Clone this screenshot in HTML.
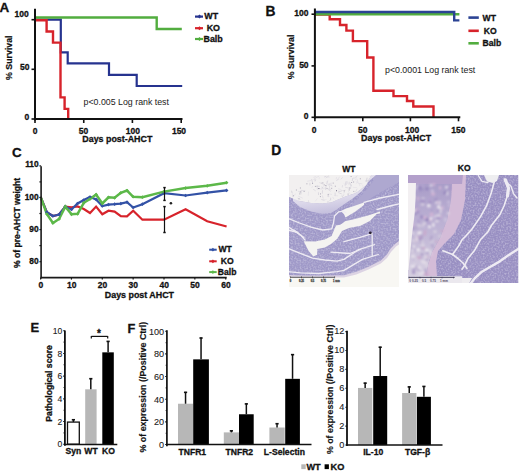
<!DOCTYPE html>
<html><head><meta charset="utf-8"><style>
html,body{margin:0;padding:0;background:#fff;width:520px;height:473px;overflow:hidden}
svg{display:block}
text{font-family:"Liberation Sans", sans-serif}
</style></head><body>
<svg width="520" height="473" viewBox="0 0 520 473">
<rect width="520" height="473" fill="#fff"/>
<text x="-0.4" y="12.4" font-size="13.5" font-weight="bold" text-anchor="start" fill="#111"  stroke="#111" stroke-width="0.3">A</text>
<polyline points="35.0,19.6 60.8,19.6 60.8,52.3 67.7,52.3 67.7,63.4 109.0,63.4 109.0,74.8 136.7,74.8 136.7,86.0 182.2,86.0" fill="none" stroke="#26338f" stroke-width="2.2" stroke-linejoin="miter" />
<polyline points="35.0,20.2 46.6,20.2 46.6,31.5 53.0,31.5 53.0,42.6 60.5,42.6 60.5,97.4 64.6,97.4 64.6,108.9 68.2,108.9 68.2,118.5" fill="none" stroke="#d7232b" stroke-width="2.4" stroke-linejoin="miter" />
<polyline points="35.0,17.5 156.7,17.5 156.7,29.0 181.8,29.0" fill="none" stroke="#52ad3f" stroke-width="2.4" stroke-linejoin="miter" />
<line x1="35" y1="8.8" x2="35" y2="120.5" stroke="#111" stroke-width="2.0" />
<line x1="34.2" y1="119" x2="182.5" y2="119" stroke="#111" stroke-width="2.0" />
<line x1="31.5" y1="19.7" x2="35" y2="19.7" stroke="#111" stroke-width="1.6" />
<line x1="31.5" y1="69.3" x2="35" y2="69.3" stroke="#111" stroke-width="1.6" />
<line x1="31.5" y1="119" x2="35" y2="119" stroke="#111" stroke-width="1.6" />
<line x1="35" y1="119" x2="35" y2="123" stroke="#111" stroke-width="1.6" />
<line x1="83.75" y1="119" x2="83.75" y2="123" stroke="#111" stroke-width="1.6" />
<line x1="132.4" y1="119" x2="132.4" y2="123" stroke="#111" stroke-width="1.6" />
<line x1="181.2" y1="119" x2="181.2" y2="123" stroke="#111" stroke-width="1.6" />
<text x="28.8" y="16.7" font-size="8.5" font-weight="bold" text-anchor="end" fill="#111"  stroke="#111" stroke-width="0.3">100</text>
<text x="29.4" y="70" font-size="8.5" font-weight="bold" text-anchor="end" fill="#111"  stroke="#111" stroke-width="0.3">50</text>
<text x="29.2" y="120" font-size="8.5" font-weight="bold" text-anchor="end" fill="#111"  stroke="#111" stroke-width="0.3">0</text>
<text x="35" y="133.9" font-size="8.5" font-weight="bold" text-anchor="middle" fill="#111"  stroke="#111" stroke-width="0.3">0</text>
<text x="83.5" y="133.9" font-size="8.5" font-weight="bold" text-anchor="middle" fill="#111"  stroke="#111" stroke-width="0.3">50</text>
<text x="132.8" y="133.9" font-size="8.5" font-weight="bold" text-anchor="middle" fill="#111"  stroke="#111" stroke-width="0.3">100</text>
<text x="179" y="133.9" font-size="8.5" font-weight="bold" text-anchor="middle" fill="#111"  stroke="#111" stroke-width="0.3">150</text>
<text x="12.1" y="57.7" font-size="8.8" font-weight="bold" text-anchor="middle" fill="#111" transform="rotate(-90 12.1 57.7)"  stroke="#111" stroke-width="0.2">% Survival</text>
<text x="117.3" y="141.9" font-size="8.9" font-weight="bold" text-anchor="middle" fill="#111"  stroke="#111" stroke-width="0.3">Days post-AHCT</text>
<text x="83.6" y="104.7" font-size="8.8" font-weight="normal" text-anchor="start" fill="#1a1a1a" >p&lt;0.005 Log rank test</text>
<line x1="195" y1="16.6" x2="203" y2="16.6" stroke="#26338f" stroke-width="2.2" />
<rect x="198.1" y="15.200000000000001" width="2.8" height="2.8" fill="#26338f" transform="rotate(45 199.5 16.6)"/>
<text x="204.3" y="19.400000000000002" font-size="8.9" font-weight="bold" text-anchor="start" fill="#111"  stroke="#111" stroke-width="0.3">WT</text>
<line x1="195" y1="28.2" x2="203" y2="28.2" stroke="#d7232b" stroke-width="2.2" />
<rect x="198.1" y="26.8" width="2.8" height="2.8" fill="#d7232b" transform="rotate(45 199.5 28.2)"/>
<text x="206.7" y="31.0" font-size="8.9" font-weight="bold" text-anchor="start" fill="#111"  stroke="#111" stroke-width="0.3">KO</text>
<line x1="195" y1="39" x2="203" y2="39" stroke="#52ad3f" stroke-width="2.2" />
<rect x="198.1" y="37.6" width="2.8" height="2.8" fill="#52ad3f" transform="rotate(45 199.5 39)"/>
<text x="203.5" y="41.8" font-size="8.9" font-weight="bold" text-anchor="start" fill="#111"  stroke="#111" stroke-width="0.3">Balb</text>
<text x="265.4" y="16.3" font-size="13.8" font-weight="bold" text-anchor="start" fill="#111"  stroke="#111" stroke-width="0.3">B</text>
<polyline points="315.0,14.5 329.7,14.5 329.7,19.2 340.0,19.2 340.0,25.0 346.4,25.0 346.4,30.6 352.9,30.6 352.9,41.1 367.2,41.1 367.2,57.5 373.4,57.5 373.4,90.8 393.5,90.8 393.5,96.1 407.0,96.1 407.0,101.0 413.3,101.0 413.3,106.5 433.5,106.5 433.5,117.0" fill="none" stroke="#d7232b" stroke-width="2.4" stroke-linejoin="miter" />
<polyline points="315.0,14.2 459.4,14.2" fill="none" stroke="#52ad3f" stroke-width="2.4" stroke-linejoin="miter" />
<polyline points="315.0,12.0 454.2,12.0 454.2,20.4 459.4,20.4" fill="none" stroke="#2b4394" stroke-width="2.4" stroke-linejoin="miter" />
<line x1="314.9" y1="8.5" x2="314.9" y2="118.5" stroke="#111" stroke-width="2.0" />
<line x1="314" y1="117.3" x2="460.3" y2="117.3" stroke="#111" stroke-width="2.0" />
<line x1="311.5" y1="14.2" x2="315" y2="14.2" stroke="#111" stroke-width="1.6" />
<line x1="311.5" y1="65.9" x2="315" y2="65.9" stroke="#111" stroke-width="1.6" />
<line x1="311.5" y1="117.3" x2="315" y2="117.3" stroke="#111" stroke-width="1.6" />
<line x1="314.9" y1="117.3" x2="314.9" y2="121.3" stroke="#111" stroke-width="1.6" />
<line x1="362.8" y1="117.3" x2="362.8" y2="121.3" stroke="#111" stroke-width="1.6" />
<line x1="410.4" y1="117.3" x2="410.4" y2="121.3" stroke="#111" stroke-width="1.6" />
<line x1="458.5" y1="117.3" x2="458.5" y2="121.3" stroke="#111" stroke-width="1.6" />
<text x="308.4" y="16.1" font-size="8.5" font-weight="bold" text-anchor="end" fill="#111"  stroke="#111" stroke-width="0.3">100</text>
<text x="308.6" y="68.2" font-size="8.5" font-weight="bold" text-anchor="end" fill="#111"  stroke="#111" stroke-width="0.3">50</text>
<text x="308.6" y="119.2" font-size="8.5" font-weight="bold" text-anchor="end" fill="#111"  stroke="#111" stroke-width="0.3">0</text>
<text x="314" y="133.1" font-size="8.5" font-weight="bold" text-anchor="middle" fill="#111"  stroke="#111" stroke-width="0.3">0</text>
<text x="362.8" y="133.1" font-size="8.5" font-weight="bold" text-anchor="middle" fill="#111"  stroke="#111" stroke-width="0.3">50</text>
<text x="412.2" y="133.1" font-size="8.5" font-weight="bold" text-anchor="middle" fill="#111"  stroke="#111" stroke-width="0.3">100</text>
<text x="458.4" y="133.1" font-size="8.5" font-weight="bold" text-anchor="middle" fill="#111"  stroke="#111" stroke-width="0.3">150</text>
<text x="294.2" y="56.9" font-size="8.8" font-weight="bold" text-anchor="middle" fill="#111" transform="rotate(-90 294.2 56.9)"  stroke="#111" stroke-width="0.2">% Survival</text>
<text x="396.1" y="141.0" font-size="8.9" font-weight="bold" text-anchor="middle" fill="#111"  stroke="#111" stroke-width="0.3">Days post-AHCT</text>
<text x="385" y="72.7" font-size="8.8" font-weight="normal" text-anchor="start" fill="#1a1a1a" >p&lt;0.0001 Log rank test</text>
<line x1="468.4" y1="17.6" x2="478.8" y2="17.6" stroke="#2b4394" stroke-width="2.6" />
<text x="482.6" y="20.6" font-size="8.6" font-weight="bold" text-anchor="start" fill="#111"  stroke="#111" stroke-width="0.3">WT</text>
<line x1="468.4" y1="30.8" x2="478.8" y2="30.8" stroke="#d7232b" stroke-width="2.6" />
<text x="483.8" y="33.8" font-size="8.6" font-weight="bold" text-anchor="start" fill="#111"  stroke="#111" stroke-width="0.3">KO</text>
<line x1="468.4" y1="43.3" x2="478.8" y2="43.3" stroke="#52ad3f" stroke-width="2.6" />
<text x="482.6" y="46.3" font-size="8.6" font-weight="bold" text-anchor="start" fill="#111"  stroke="#111" stroke-width="0.3">Balb</text>
<text x="11.9" y="156.9" font-size="13.4" font-weight="bold" text-anchor="start" fill="#111"  stroke="#111" stroke-width="0.3">C</text>
<polyline points="40.6,196.8 46.8,212.2 52.9,216.0 59.1,214.5 65.3,206.6 71.5,207.3 77.6,206.5 83.8,209.0 90.0,213.0 96.1,206.6 102.3,214.3 108.5,210.7 114.6,211.6 120.8,216.1 127.0,216.3 133.2,210.7 142.4,219.7 164.0,219.7 185.6,209.2 207.2,221.2 226.6,226.5" fill="none" stroke="#d7232b" stroke-width="2.2" stroke-linejoin="miter" stroke-linejoin="round"/>
<polyline points="40.6,196.8 46.8,212.2 52.9,216.0 59.1,214.5 65.3,206.6 71.5,209.5 77.6,203.5 83.8,200.0 90.0,197.0 96.1,199.4 102.3,206.0 108.5,204.6 114.6,204.2 120.8,203.6 127.0,202.2 133.2,207.6 142.4,204.2 164.0,193.2 185.6,195.5 207.2,192.7 226.6,190.4" fill="none" stroke="#3352a6" stroke-width="2.2" stroke-linejoin="miter" stroke-linejoin="round"/>
<polyline points="40.6,196.8 46.8,214.0 52.9,223.0 59.1,219.0 65.3,206.6 71.5,214.3 77.6,213.8 83.8,202.8 90.0,199.0 96.1,194.6 102.3,203.5 108.5,197.3 114.6,197.8 120.8,192.8 127.0,190.5 133.2,196.8 142.4,197.2 164.0,191.6 185.6,188.1 207.2,185.8 226.6,182.7" fill="none" stroke="#5cb849" stroke-width="2.5" stroke-linejoin="miter" stroke-linejoin="round"/>
<rect x="45.5" y="210.9" width="2.6" height="2.6" fill="#3352a6" transform="rotate(45 46.8 212.2)"/>
<rect x="51.6" y="214.7" width="2.6" height="2.6" fill="#3352a6" transform="rotate(45 52.9 216.0)"/>
<rect x="57.8" y="213.2" width="2.6" height="2.6" fill="#3352a6" transform="rotate(45 59.1 214.5)"/>
<rect x="64.0" y="205.3" width="2.6" height="2.6" fill="#3352a6" transform="rotate(45 65.3 206.6)"/>
<rect x="70.2" y="208.2" width="2.6" height="2.6" fill="#3352a6" transform="rotate(45 71.5 209.5)"/>
<rect x="76.3" y="202.2" width="2.6" height="2.6" fill="#3352a6" transform="rotate(45 77.6 203.5)"/>
<rect x="82.5" y="198.7" width="2.6" height="2.6" fill="#3352a6" transform="rotate(45 83.8 200.0)"/>
<rect x="88.7" y="195.7" width="2.6" height="2.6" fill="#3352a6" transform="rotate(45 90.0 197.0)"/>
<rect x="94.8" y="198.1" width="2.6" height="2.6" fill="#3352a6" transform="rotate(45 96.1 199.4)"/>
<rect x="101.0" y="204.7" width="2.6" height="2.6" fill="#3352a6" transform="rotate(45 102.3 206.0)"/>
<rect x="107.2" y="203.3" width="2.6" height="2.6" fill="#3352a6" transform="rotate(45 108.5 204.6)"/>
<rect x="113.3" y="202.9" width="2.6" height="2.6" fill="#3352a6" transform="rotate(45 114.6 204.2)"/>
<rect x="119.5" y="202.3" width="2.6" height="2.6" fill="#3352a6" transform="rotate(45 120.8 203.6)"/>
<rect x="125.7" y="200.9" width="2.6" height="2.6" fill="#3352a6" transform="rotate(45 127.0 202.2)"/>
<rect x="131.8" y="206.3" width="2.6" height="2.6" fill="#3352a6" transform="rotate(45 133.2 207.6)"/>
<rect x="141.1" y="202.9" width="2.6" height="2.6" fill="#3352a6" transform="rotate(45 142.4 204.2)"/>
<rect x="162.7" y="191.9" width="2.6" height="2.6" fill="#3352a6" transform="rotate(45 164.0 193.2)"/>
<rect x="184.3" y="194.2" width="2.6" height="2.6" fill="#3352a6" transform="rotate(45 185.6 195.5)"/>
<rect x="205.9" y="191.4" width="2.6" height="2.6" fill="#3352a6" transform="rotate(45 207.2 192.7)"/>
<rect x="225.3" y="189.1" width="2.6" height="2.6" fill="#3352a6" transform="rotate(45 226.6 190.4)"/>
<rect x="45.5" y="212.7" width="2.6" height="2.6" fill="#5cb849" transform="rotate(45 46.8 214.0)"/>
<rect x="51.6" y="221.7" width="2.6" height="2.6" fill="#5cb849" transform="rotate(45 52.9 223.0)"/>
<rect x="57.8" y="217.7" width="2.6" height="2.6" fill="#5cb849" transform="rotate(45 59.1 219.0)"/>
<rect x="64.0" y="205.3" width="2.6" height="2.6" fill="#5cb849" transform="rotate(45 65.3 206.6)"/>
<rect x="70.2" y="213.0" width="2.6" height="2.6" fill="#5cb849" transform="rotate(45 71.5 214.3)"/>
<rect x="76.3" y="212.5" width="2.6" height="2.6" fill="#5cb849" transform="rotate(45 77.6 213.8)"/>
<rect x="82.5" y="201.5" width="2.6" height="2.6" fill="#5cb849" transform="rotate(45 83.8 202.8)"/>
<rect x="88.7" y="197.7" width="2.6" height="2.6" fill="#5cb849" transform="rotate(45 90.0 199.0)"/>
<rect x="94.8" y="193.3" width="2.6" height="2.6" fill="#5cb849" transform="rotate(45 96.1 194.6)"/>
<rect x="101.0" y="202.2" width="2.6" height="2.6" fill="#5cb849" transform="rotate(45 102.3 203.5)"/>
<rect x="107.2" y="196.0" width="2.6" height="2.6" fill="#5cb849" transform="rotate(45 108.5 197.3)"/>
<rect x="113.3" y="196.5" width="2.6" height="2.6" fill="#5cb849" transform="rotate(45 114.6 197.8)"/>
<rect x="119.5" y="191.5" width="2.6" height="2.6" fill="#5cb849" transform="rotate(45 120.8 192.8)"/>
<rect x="125.7" y="189.2" width="2.6" height="2.6" fill="#5cb849" transform="rotate(45 127.0 190.5)"/>
<rect x="131.8" y="195.5" width="2.6" height="2.6" fill="#5cb849" transform="rotate(45 133.2 196.8)"/>
<rect x="141.1" y="195.9" width="2.6" height="2.6" fill="#5cb849" transform="rotate(45 142.4 197.2)"/>
<rect x="162.7" y="190.3" width="2.6" height="2.6" fill="#5cb849" transform="rotate(45 164.0 191.6)"/>
<rect x="184.3" y="186.8" width="2.6" height="2.6" fill="#5cb849" transform="rotate(45 185.6 188.1)"/>
<rect x="205.9" y="184.5" width="2.6" height="2.6" fill="#5cb849" transform="rotate(45 207.2 185.8)"/>
<rect x="225.3" y="181.4" width="2.6" height="2.6" fill="#5cb849" transform="rotate(45 226.6 182.7)"/>
<line x1="164.5" y1="187.4" x2="164.5" y2="200.6" stroke="#111" stroke-width="1.2" />
<line x1="163.3" y1="187.6" x2="165.7" y2="187.6" stroke="#111" stroke-width="1.5" />
<line x1="163.3" y1="200.4" x2="165.7" y2="200.4" stroke="#111" stroke-width="1.5" />
<line x1="164.5" y1="206.4" x2="164.5" y2="232.7" stroke="#111" stroke-width="1.2" />
<line x1="163.3" y1="206.6" x2="165.7" y2="206.6" stroke="#111" stroke-width="1.5" />
<line x1="163.3" y1="232.5" x2="165.7" y2="232.5" stroke="#111" stroke-width="1.5" />
<circle cx="170.9" cy="203.2" r="1.3" fill="#222"/>
<line x1="41.1" y1="166.3" x2="41.1" y2="278.4" stroke="#1a1a1a" stroke-width="1.6" />
<line x1="40.5" y1="277.7" x2="226.7" y2="277.7" stroke="#1a1a1a" stroke-width="1.8" />
<line x1="39.4" y1="165.9" x2="41.1" y2="165.9" stroke="#1a1a1a" stroke-width="1.2" />
<line x1="39.4" y1="181.9" x2="41.1" y2="181.9" stroke="#1a1a1a" stroke-width="1.2" />
<line x1="39.4" y1="197.4" x2="41.1" y2="197.4" stroke="#1a1a1a" stroke-width="1.2" />
<line x1="39.4" y1="213.5" x2="41.1" y2="213.5" stroke="#1a1a1a" stroke-width="1.2" />
<line x1="39.4" y1="229.6" x2="41.1" y2="229.6" stroke="#1a1a1a" stroke-width="1.2" />
<line x1="39.4" y1="245.6" x2="41.1" y2="245.6" stroke="#1a1a1a" stroke-width="1.2" />
<line x1="39.4" y1="261.7" x2="41.1" y2="261.7" stroke="#1a1a1a" stroke-width="1.2" />
<line x1="40.6" y1="277.7" x2="40.6" y2="279.6" stroke="#1a1a1a" stroke-width="1.2" />
<line x1="71.45" y1="277.7" x2="71.45" y2="279.6" stroke="#1a1a1a" stroke-width="1.2" />
<line x1="102.30000000000001" y1="277.7" x2="102.30000000000001" y2="279.6" stroke="#1a1a1a" stroke-width="1.2" />
<line x1="133.15" y1="277.7" x2="133.15" y2="279.6" stroke="#1a1a1a" stroke-width="1.2" />
<line x1="164.0" y1="277.7" x2="164.0" y2="279.6" stroke="#1a1a1a" stroke-width="1.2" />
<line x1="194.85" y1="277.7" x2="194.85" y2="279.6" stroke="#1a1a1a" stroke-width="1.2" />
<line x1="225.7" y1="277.7" x2="225.7" y2="279.6" stroke="#1a1a1a" stroke-width="1.2" />
<text x="38.7" y="167.2" font-size="8.4" font-weight="bold" text-anchor="end" fill="#111"  stroke="#111" stroke-width="0.3">110</text>
<text x="38.7" y="200.4" font-size="8.4" font-weight="bold" text-anchor="end" fill="#111"  stroke="#111" stroke-width="0.3">100</text>
<text x="38.7" y="232.1" font-size="8.4" font-weight="bold" text-anchor="end" fill="#111"  stroke="#111" stroke-width="0.3">90</text>
<text x="38.7" y="263.6" font-size="8.4" font-weight="bold" text-anchor="end" fill="#111"  stroke="#111" stroke-width="0.3">80</text>
<text x="40.800000000000004" y="288.2" font-size="8.5" font-weight="bold" text-anchor="middle" fill="#111"  stroke="#111" stroke-width="0.3">0</text>
<text x="71.65" y="288.2" font-size="8.5" font-weight="bold" text-anchor="middle" fill="#111"  stroke="#111" stroke-width="0.3">10</text>
<text x="102.50000000000001" y="288.2" font-size="8.5" font-weight="bold" text-anchor="middle" fill="#111"  stroke="#111" stroke-width="0.3">20</text>
<text x="133.35" y="288.2" font-size="8.5" font-weight="bold" text-anchor="middle" fill="#111"  stroke="#111" stroke-width="0.3">30</text>
<text x="164.2" y="288.2" font-size="8.5" font-weight="bold" text-anchor="middle" fill="#111"  stroke="#111" stroke-width="0.3">40</text>
<text x="195.04999999999998" y="288.2" font-size="8.5" font-weight="bold" text-anchor="middle" fill="#111"  stroke="#111" stroke-width="0.3">50</text>
<text x="225.89999999999998" y="288.2" font-size="8.5" font-weight="bold" text-anchor="middle" fill="#111"  stroke="#111" stroke-width="0.3">60</text>
<text x="19.9" y="222.9" font-size="8.6" font-weight="bold" text-anchor="middle" fill="#111" transform="rotate(-90 19.9 222.9)"  stroke="#111" stroke-width="0.3">% of pre-AHCT weight</text>
<text x="139.4" y="297.6" font-size="8.9" font-weight="bold" text-anchor="middle" fill="#111"  stroke="#111" stroke-width="0.3">Days post AHCT</text>
<line x1="209.2" y1="249.7" x2="216.7" y2="249.7" stroke="#3352a6" stroke-width="2.0" />
<rect x="211.6" y="248.39999999999998" width="2.6" height="2.6" fill="#3352a6" transform="rotate(45 212.9 249.7)"/>
<text x="218.5" y="252.39999999999998" font-size="8.6" font-weight="bold" text-anchor="start" fill="#111"  stroke="#111" stroke-width="0.3">WT</text>
<line x1="209.2" y1="261.3" x2="216.7" y2="261.3" stroke="#d7232b" stroke-width="2.0" />
<rect x="211.6" y="260.0" width="2.6" height="2.6" fill="#d7232b" transform="rotate(45 212.9 261.3)"/>
<text x="220.8" y="264.0" font-size="8.6" font-weight="bold" text-anchor="start" fill="#111"  stroke="#111" stroke-width="0.3">KO</text>
<line x1="209.2" y1="272.1" x2="216.7" y2="272.1" stroke="#5cb849" stroke-width="2.0" />
<rect x="211.6" y="270.8" width="2.6" height="2.6" fill="#5cb849" transform="rotate(45 212.9 272.1)"/>
<text x="217.8" y="274.8" font-size="8.6" font-weight="bold" text-anchor="start" fill="#111"  stroke="#111" stroke-width="0.3">Balb</text>
<text x="271.2" y="155.3" font-size="13.8" font-weight="bold" text-anchor="start" fill="#111"  stroke="#111" stroke-width="0.3">D</text>
<text x="348.8" y="171.9" font-size="8.5" font-weight="bold" text-anchor="middle" fill="#111"  stroke="#111" stroke-width="0.3">WT</text>
<text x="464.2" y="171.4" font-size="8.5" font-weight="bold" text-anchor="middle" fill="#111"  stroke="#111" stroke-width="0.3">KO</text>
<defs><clipPath id="cwt"><rect x="289" y="175" width="110" height="112"/></clipPath><clipPath id="cko"><rect x="408" y="175" width="110.5" height="108"/></clipPath><filter id="spk" x="0" y="0" width="1" height="1"><feTurbulence type="fractalNoise" baseFrequency="0.6" numOctaves="1" seed="3"/><feColorMatrix values="0 0 0 0 1  0 0 0 0 1  0 0 0 0 1  0 0 0 -2.2 1.25"/></filter><filter id="spkd" x="0" y="0" width="1" height="1"><feTurbulence type="fractalNoise" baseFrequency="0.7" numOctaves="1" seed="9"/><feColorMatrix values="0 0 0 0 0.25  0 0 0 0 0.2  0 0 0 0 0.4  0 0 0 -2.4 1.3"/></filter><filter id="bl" x="-5%" y="-5%" width="110%" height="110%"><feGaussianBlur stdDeviation="0.55"/></filter></defs>
<g clip-path="url(#cwt)"><g filter="url(#bl)">
<rect x="289" y="175" width="110" height="112" fill="#a19bca" stroke="none" stroke-width="0"/>
<rect x="289" y="175" width="110" height="112" filter="url(#spk)" opacity="0.4"/>
<rect x="289" y="175" width="110" height="112" filter="url(#spkd)" opacity="0.3"/>
<polygon points="372.0,175.0 399.0,175.0 399.0,182.0 388.0,188.0 376.0,195.0 365.0,202.0 352.0,208.0 352.0,204.0 360.0,197.0 368.0,188.0 374.0,180.0" fill="#aea8d0" />
<defs><linearGradient id="pg" x1="0" y1="0" x2="0.25" y2="1"><stop offset="0" stop-color="#e8e5ef"/><stop offset="0.7" stop-color="#dcd8ea"/><stop offset="1" stop-color="#c6c1de"/></linearGradient></defs>
<polygon points="293.0,196.0 299.5,201.1 311.0,202.9 322.6,203.5 331.8,202.3 339.9,198.8 348.0,195.4 356.0,193.0 366.2,185.2 371.3,175.0 376.0,175.0 369.0,181.0 362.0,191.0 352.0,199.0 343.0,205.0 336.0,210.0 331.0,213.0 322.0,213.8 311.0,211.5 300.0,207.0 293.0,201.0" fill="url(#pg)" />
<polygon points="289.0,175.0 371.3,175.0 366.2,185.2 356.0,193.0 348.0,195.4 339.9,198.8 331.8,202.3 322.6,203.5 311.0,202.9 299.5,201.1 289.0,197.0" fill="#f2f0f0" />
<line x1="315.9" y1="179.6" x2="314.9" y2="181.6" stroke="#d6d3dc" stroke-width="0.6"/>
<line x1="319.3" y1="177.1" x2="319.2" y2="179.2" stroke="#e2dfe6" stroke-width="0.6"/>
<line x1="323.5" y1="182.1" x2="323.1" y2="184.3" stroke="#d6d3dc" stroke-width="0.6"/>
<line x1="336.6" y1="177.2" x2="336.1" y2="179.3" stroke="#dddae2" stroke-width="0.6"/>
<line x1="313.2" y1="179.5" x2="315.9" y2="180.5" stroke="#dddae2" stroke-width="0.6"/>
<line x1="298.2" y1="191.2" x2="300.1" y2="192.5" stroke="#d6d3dc" stroke-width="0.6"/>
<line x1="335.1" y1="192.5" x2="335.2" y2="196.1" stroke="#cdcad5" stroke-width="0.6"/>
<line x1="327.2" y1="200.9" x2="328.4" y2="203.4" stroke="#dddae2" stroke-width="0.6"/>
<line x1="345.9" y1="182.2" x2="345.1" y2="185.7" stroke="#cdcad5" stroke-width="0.6"/>
<line x1="348.4" y1="183.4" x2="346.0" y2="183.6" stroke="#e2dfe6" stroke-width="0.6"/>
<line x1="367.0" y1="177.6" x2="366.2" y2="181.9" stroke="#cdcad5" stroke-width="0.6"/>
<line x1="317.2" y1="185.1" x2="317.3" y2="189.5" stroke="#d6d3dc" stroke-width="0.6"/>
<line x1="327.9" y1="193.8" x2="332.0" y2="194.5" stroke="#e2dfe6" stroke-width="0.6"/>
<line x1="312.8" y1="186.1" x2="311.7" y2="187.9" stroke="#e2dfe6" stroke-width="0.6"/>
<line x1="318.4" y1="192.3" x2="318.5" y2="195.0" stroke="#cdcad5" stroke-width="0.6"/>
<line x1="321.3" y1="199.5" x2="324.5" y2="200.3" stroke="#cdcad5" stroke-width="0.6"/>
<line x1="359.1" y1="183.2" x2="359.9" y2="186.1" stroke="#e2dfe6" stroke-width="0.6"/>
<line x1="366.6" y1="179.7" x2="368.9" y2="181.1" stroke="#dddae2" stroke-width="0.6"/>
<line x1="301.7" y1="190.2" x2="300.7" y2="193.0" stroke="#dddae2" stroke-width="0.6"/>
<line x1="345.2" y1="189.7" x2="343.8" y2="193.4" stroke="#d6d3dc" stroke-width="0.6"/>
<line x1="326.5" y1="199.5" x2="322.5" y2="200.1" stroke="#e2dfe6" stroke-width="0.6"/>
<line x1="321.8" y1="186.3" x2="322.0" y2="189.5" stroke="#dddae2" stroke-width="0.6"/>
<line x1="319.1" y1="176.2" x2="315.5" y2="177.7" stroke="#dddae2" stroke-width="0.6"/>
<line x1="338.2" y1="188.5" x2="341.4" y2="189.8" stroke="#e2dfe6" stroke-width="0.6"/>
<line x1="328.4" y1="184.1" x2="332.3" y2="185.9" stroke="#cdcad5" stroke-width="0.6"/>
<line x1="328.3" y1="194.5" x2="328.2" y2="197.1" stroke="#cdcad5" stroke-width="0.6"/>
<line x1="301.7" y1="190.4" x2="305.3" y2="190.7" stroke="#d6d3dc" stroke-width="0.6"/>
<line x1="345.7" y1="182.7" x2="346.7" y2="185.0" stroke="#dddae2" stroke-width="0.6"/>
<line x1="332.6" y1="196.9" x2="334.0" y2="199.2" stroke="#dddae2" stroke-width="0.6"/>
<line x1="349.2" y1="181.7" x2="349.0" y2="184.8" stroke="#d6d3dc" stroke-width="0.6"/>
<line x1="327.8" y1="180.8" x2="326.8" y2="183.7" stroke="#cdcad5" stroke-width="0.6"/>
<line x1="357.2" y1="188.7" x2="355.2" y2="192.6" stroke="#d6d3dc" stroke-width="0.6"/>
<line x1="356.8" y1="178.8" x2="358.2" y2="182.7" stroke="#dddae2" stroke-width="0.6"/>
<line x1="328.2" y1="180.4" x2="325.9" y2="182.3" stroke="#e2dfe6" stroke-width="0.6"/>
<line x1="327.1" y1="195.9" x2="329.4" y2="196.6" stroke="#dddae2" stroke-width="0.6"/>
<line x1="292.2" y1="191.7" x2="292.6" y2="195.7" stroke="#e2dfe6" stroke-width="0.6"/>
<line x1="342.6" y1="185.1" x2="342.2" y2="187.5" stroke="#d6d3dc" stroke-width="0.6"/>
<line x1="298.2" y1="196.1" x2="302.7" y2="198.2" stroke="#dddae2" stroke-width="0.6"/>
<line x1="356.1" y1="181.3" x2="358.1" y2="183.4" stroke="#dddae2" stroke-width="0.6"/>
<line x1="351.1" y1="184.5" x2="350.5" y2="188.9" stroke="#d6d3dc" stroke-width="0.6"/>
<line x1="362.8" y1="185.2" x2="363.3" y2="188.9" stroke="#e2dfe6" stroke-width="0.6"/>
<line x1="330.8" y1="199.5" x2="327.9" y2="202.0" stroke="#dddae2" stroke-width="0.6"/>
<line x1="348.0" y1="190.8" x2="349.9" y2="193.8" stroke="#e2dfe6" stroke-width="0.6"/>
<line x1="352.7" y1="178.4" x2="352.2" y2="181.1" stroke="#cdcad5" stroke-width="0.6"/>
<line x1="326.2" y1="176.3" x2="324.1" y2="177.0" stroke="#cdcad5" stroke-width="0.6"/>
<line x1="339.0" y1="189.4" x2="338.8" y2="193.5" stroke="#e2dfe6" stroke-width="0.6"/>
<line x1="330.7" y1="197.7" x2="330.6" y2="200.4" stroke="#cdcad5" stroke-width="0.6"/>
<line x1="323.3" y1="186.3" x2="325.5" y2="189.7" stroke="#e2dfe6" stroke-width="0.6"/>
<line x1="295.8" y1="193.9" x2="292.2" y2="196.9" stroke="#dddae2" stroke-width="0.6"/>
<line x1="319.3" y1="182.5" x2="322.4" y2="183.9" stroke="#d6d3dc" stroke-width="0.6"/>
<line x1="321.9" y1="188.9" x2="317.4" y2="189.0" stroke="#dddae2" stroke-width="0.6"/>
<line x1="322.3" y1="187.1" x2="323.3" y2="189.1" stroke="#cdcad5" stroke-width="0.6"/>
<line x1="291.6" y1="190.7" x2="291.9" y2="192.8" stroke="#cdcad5" stroke-width="0.6"/>
<line x1="331.4" y1="183.6" x2="329.1" y2="183.9" stroke="#dddae2" stroke-width="0.6"/>
<line x1="367.7" y1="178.4" x2="369.2" y2="180.0" stroke="#dddae2" stroke-width="0.6"/>
<line x1="311.6" y1="179.1" x2="312.8" y2="183.7" stroke="#cdcad5" stroke-width="0.6"/>
<line x1="322.5" y1="190.3" x2="322.3" y2="193.7" stroke="#cdcad5" stroke-width="0.6"/>
<line x1="345.1" y1="187.2" x2="349.7" y2="188.3" stroke="#d6d3dc" stroke-width="0.6"/>
<line x1="354.1" y1="177.8" x2="352.2" y2="178.8" stroke="#d6d3dc" stroke-width="0.6"/>
<line x1="326.3" y1="184.8" x2="325.5" y2="189.5" stroke="#cdcad5" stroke-width="0.6"/>
<line x1="339.7" y1="176.7" x2="336.8" y2="180.5" stroke="#dddae2" stroke-width="0.6"/>
<line x1="311.0" y1="180.5" x2="307.2" y2="181.3" stroke="#dddae2" stroke-width="0.6"/>
<line x1="313.2" y1="189.3" x2="315.8" y2="190.9" stroke="#d6d3dc" stroke-width="0.6"/>
<line x1="369.6" y1="176.5" x2="373.1" y2="176.7" stroke="#dddae2" stroke-width="0.6"/>
<line x1="331.1" y1="182.3" x2="331.8" y2="186.2" stroke="#e2dfe6" stroke-width="0.6"/>
<line x1="342.5" y1="190.5" x2="337.9" y2="192.2" stroke="#cdcad5" stroke-width="0.6"/>
<line x1="317.4" y1="198.4" x2="315.1" y2="201.5" stroke="#e2dfe6" stroke-width="0.6"/>
<line x1="357.0" y1="175.9" x2="355.2" y2="180.2" stroke="#e2dfe6" stroke-width="0.6"/>
<line x1="343.6" y1="183.3" x2="345.7" y2="185.2" stroke="#e2dfe6" stroke-width="0.6"/>
<line x1="315.9" y1="176.4" x2="313.4" y2="177.4" stroke="#dddae2" stroke-width="0.6"/>
<line x1="328.0" y1="189.3" x2="330.8" y2="191.4" stroke="#d6d3dc" stroke-width="0.6"/>
<line x1="297.3" y1="198.0" x2="300.7" y2="199.6" stroke="#e2dfe6" stroke-width="0.6"/>
<line x1="308.6" y1="191.6" x2="308.2" y2="195.8" stroke="#e2dfe6" stroke-width="0.6"/>
<line x1="329.5" y1="183.3" x2="328.6" y2="185.6" stroke="#e2dfe6" stroke-width="0.6"/>
<line x1="301.1" y1="189.9" x2="301.1" y2="194.4" stroke="#d6d3dc" stroke-width="0.6"/>
<line x1="345.5" y1="181.8" x2="347.9" y2="182.1" stroke="#cdcad5" stroke-width="0.6"/>
<line x1="326.1" y1="176.9" x2="329.7" y2="177.1" stroke="#dddae2" stroke-width="0.6"/>
<line x1="329.1" y1="175.6" x2="325.7" y2="178.1" stroke="#d6d3dc" stroke-width="0.6"/>
<line x1="342.7" y1="177.3" x2="340.9" y2="179.3" stroke="#d6d3dc" stroke-width="0.6"/>
<line x1="357.7" y1="182.0" x2="355.7" y2="183.8" stroke="#e2dfe6" stroke-width="0.6"/>
<line x1="329.5" y1="186.0" x2="329.8" y2="190.1" stroke="#d6d3dc" stroke-width="0.6"/>
<line x1="339.4" y1="193.2" x2="341.7" y2="193.8" stroke="#cdcad5" stroke-width="0.6"/>
<line x1="342.1" y1="194.6" x2="341.2" y2="196.8" stroke="#e2dfe6" stroke-width="0.6"/>
<line x1="343.8" y1="194.5" x2="342.3" y2="197.0" stroke="#cdcad5" stroke-width="0.6"/>
<line x1="327.2" y1="188.3" x2="331.5" y2="190.0" stroke="#dddae2" stroke-width="0.6"/>
<line x1="314.9" y1="177.9" x2="315.2" y2="180.7" stroke="#d6d3dc" stroke-width="0.6"/>
<line x1="326.0" y1="182.9" x2="329.8" y2="185.9" stroke="#dddae2" stroke-width="0.6"/>
<line x1="349.8" y1="182.7" x2="351.4" y2="186.1" stroke="#cdcad5" stroke-width="0.6"/>
<line x1="308.5" y1="200.2" x2="308.6" y2="202.3" stroke="#d6d3dc" stroke-width="0.6"/>
<line x1="322.4" y1="195.5" x2="323.2" y2="198.5" stroke="#d6d3dc" stroke-width="0.6"/>
<line x1="357.2" y1="175.5" x2="354.0" y2="178.7" stroke="#d6d3dc" stroke-width="0.6"/>
<line x1="365.2" y1="180.9" x2="369.4" y2="181.0" stroke="#cdcad5" stroke-width="0.6"/>
<line x1="319.8" y1="186.3" x2="316.0" y2="186.3" stroke="#cdcad5" stroke-width="0.6"/>
<line x1="358.3" y1="183.2" x2="362.3" y2="183.9" stroke="#dddae2" stroke-width="0.6"/>
<line x1="309.9" y1="182.8" x2="309.9" y2="185.4" stroke="#cdcad5" stroke-width="0.6"/>
<line x1="352.8" y1="187.3" x2="357.1" y2="187.7" stroke="#e2dfe6" stroke-width="0.6"/>
<line x1="333.9" y1="195.3" x2="338.1" y2="195.9" stroke="#e2dfe6" stroke-width="0.6"/>
<line x1="339.2" y1="179.3" x2="336.0" y2="180.7" stroke="#dddae2" stroke-width="0.6"/>
<rect x="312.0" y="182.9" width="1" height="1" fill="#b0acbb"/>
<rect x="347.6" y="193.6" width="1" height="1" fill="#b0acbb"/>
<rect x="321.7" y="182.4" width="1" height="1" fill="#b0acbb"/>
<rect x="327.7" y="194.1" width="1" height="1" fill="#b0acbb"/>
<rect x="299.3" y="193.4" width="1" height="1" fill="#b0acbb"/>
<rect x="295.9" y="189.5" width="1" height="1" fill="#b0acbb"/>
<rect x="353.3" y="190.9" width="1" height="1" fill="#b0acbb"/>
<rect x="325.3" y="185.0" width="1" height="1" fill="#b0acbb"/>
<rect x="349.2" y="187.5" width="1" height="1" fill="#b0acbb"/>
<rect x="332.7" y="182.6" width="1" height="1" fill="#b0acbb"/>
<rect x="303.6" y="191.0" width="1" height="1" fill="#b0acbb"/>
<rect x="314.9" y="185.9" width="1" height="1" fill="#b0acbb"/>
<rect x="353.1" y="181.5" width="1" height="1" fill="#b0acbb"/>
<rect x="319.9" y="196.1" width="1" height="1" fill="#b0acbb"/>
<rect x="306.4" y="183.3" width="1" height="1" fill="#b0acbb"/>
<rect x="348.7" y="189.4" width="1" height="1" fill="#b0acbb"/>
<rect x="334.8" y="185.7" width="1" height="1" fill="#b0acbb"/>
<rect x="343.6" y="190.3" width="1" height="1" fill="#b0acbb"/>
<rect x="320.0" y="193.4" width="1" height="1" fill="#b0acbb"/>
<rect x="323.7" y="184.4" width="1" height="1" fill="#b0acbb"/>
<rect x="299.9" y="187.5" width="1" height="1" fill="#b0acbb"/>
<rect x="326.5" y="188.1" width="1" height="1" fill="#b0acbb"/>
<rect x="351.1" y="182.0" width="1" height="1" fill="#b0acbb"/>
<rect x="298.5" y="198.3" width="1" height="1" fill="#b0acbb"/>
<rect x="359.8" y="178.3" width="1" height="1" fill="#b0acbb"/>
<rect x="350.6" y="176.0" width="1" height="1" fill="#b0acbb"/>
<rect x="299.8" y="191.4" width="1" height="1" fill="#b0acbb"/>
<rect x="292.9" y="195.3" width="1" height="1" fill="#b0acbb"/>
<rect x="331.2" y="187.8" width="1" height="1" fill="#b0acbb"/>
<rect x="318" y="188" width="1.6" height="0.8" fill="#8c889c"/>
<rect x="336" y="190" width="1" height="1.3" fill="#8c889c"/>
<polygon points="303.7,241.2 315.2,241.5 324.8,239.5 331.6,236.0 334.0,230.0 336.0,225.5 340.0,224.8 345.6,221.0 353.0,219.5 360.6,217.6 368.0,215.5 375.6,213.0 380.0,211.5 380.0,213.5 376.7,214.1 369.8,221.0 360.6,225.7 349.0,228.0 342.0,231.0 337.0,239.0 331.0,244.0 324.8,247.5 317.2,248.9 317.2,254.7 313.3,256.6 308.5,250.8" fill="#f4f3f1" />
<polygon points="341.0,211.0 346.0,208.5 354.0,206.0 364.0,202.6 364.0,205.0 355.0,211.8 345.6,217.6" fill="#f4f3f1" />
<ellipse cx="339.3" cy="218.2" rx="5.6" ry="6.4" transform="rotate(15 339.3 218.2)" fill="#a19bca"/>
<polygon points="289.0,275.0 300.0,275.5 320.0,275.5 344.0,275.3 356.3,271.7 368.5,266.8 380.8,260.6 386.9,254.5 390.6,248.4 395.5,243.5 399.0,241.0 399.0,287.0 289.0,287.0" fill="#dcd3e3" />
<polygon points="289.0,277.0 300.0,277.5 320.0,277.5 344.0,277.5 356.3,274.5 368.5,269.6 380.8,263.6 387.0,258.0 391.0,252.0 396.0,246.5 399.0,244.5 399.0,287.0 289.0,287.0" fill="#f8f7f3" />
<polyline points="288.0,218.4 299.5,223.0 311.0,227.1 322.6,230.0 331.8,228.8 333.5,223.0 334.5,216.0 338.7,211.8 343.4,211.2 346.0,212.7" fill="none" stroke="#eeebf3" stroke-width="1.3" stroke-linejoin="round" stroke-linecap="round"/>
<polyline points="288.0,226.6 301.0,235.5 305.0,240.0" fill="none" stroke="#eeebf3" stroke-width="1.3" stroke-linejoin="round" stroke-linecap="round"/>
<polyline points="288.0,248.4 300.3,253.3 312.5,258.2 324.8,260.0 337.0,261.2 344.0,259.4 358.7,249.6 374.6,244.7" fill="none" stroke="#eeebf3" stroke-width="1.3" stroke-linejoin="round" stroke-linecap="round"/>
<polyline points="288.0,271.7 300.3,272.9 318.6,273.5 337.0,271.7 344.0,270.4 362.4,259.4 378.3,254.5" fill="none" stroke="#eeebf3" stroke-width="1.3" stroke-linejoin="round" stroke-linecap="round"/>
<polyline points="344.0,241.6 360.0,237.4 372.2,233.7" fill="none" stroke="#eeebf3" stroke-width="1.3" stroke-linejoin="round" stroke-linecap="round"/>
<polyline points="372.2,234.9 372.2,255.7" fill="none" stroke="#eeebf3" stroke-width="1.3" stroke-linejoin="round" stroke-linecap="round"/>
<polyline points="364.0,202.4 380.0,198.0 400.0,194.1" fill="none" stroke="#eeebf3" stroke-width="1.3" stroke-linejoin="round" stroke-linecap="round"/>
<polyline points="377.0,209.5 390.0,206.0 400.0,203.6" fill="none" stroke="#eeebf3" stroke-width="1.3" stroke-linejoin="round" stroke-linecap="round"/>
<polyline points="330.9,252.1 349.8,253.5 360.7,249.4" fill="none" stroke="#eeebf3" stroke-width="1.3" stroke-linejoin="round" stroke-linecap="round"/>
<polyline points="294.1,230.0 303.9,237.4" fill="none" stroke="#eeebf3" stroke-width="1.3" stroke-linejoin="round" stroke-linecap="round"/>
<polyline points="288.0,230.0 297.8,232.5" fill="none" stroke="#eeebf3" stroke-width="1.3" stroke-linejoin="round" stroke-linecap="round"/>
<circle cx="370.3" cy="232.8" r="1.4" fill="#2a2030"/>
</g>
<line x1="290.5" y1="277.3" x2="334.6" y2="277.3" stroke="#333" stroke-width="0.8" />
<line x1="290.5" y1="276.3" x2="290.5" y2="278.3" stroke="#333" stroke-width="0.6" />
<line x1="301.5" y1="276.3" x2="301.5" y2="278.3" stroke="#333" stroke-width="0.6" />
<line x1="312.5" y1="276.3" x2="312.5" y2="278.3" stroke="#333" stroke-width="0.6" />
<line x1="323.5" y1="276.3" x2="323.5" y2="278.3" stroke="#333" stroke-width="0.6" />
<line x1="334.6" y1="276.3" x2="334.6" y2="278.3" stroke="#333" stroke-width="0.6" />
<text x="290.5" y="281.8" font-size="2.6" font-weight="bold" text-anchor="middle" fill="#555"  stroke="#555" stroke-width="0.3">0</text>
<text x="301.5" y="281.8" font-size="2.6" font-weight="bold" text-anchor="middle" fill="#555"  stroke="#555" stroke-width="0.3">0.25</text>
<text x="312.5" y="281.8" font-size="2.6" font-weight="bold" text-anchor="middle" fill="#555"  stroke="#555" stroke-width="0.3">0.5</text>
<text x="323.5" y="281.8" font-size="2.6" font-weight="bold" text-anchor="middle" fill="#555"  stroke="#555" stroke-width="0.3">0.75</text>
<text x="336.5" y="281.8" font-size="2.6" font-weight="bold" text-anchor="middle" fill="#555"  stroke="#555" stroke-width="0.3">1 mm</text>
</g>
<g clip-path="url(#cko)"><g filter="url(#bl)">
<rect x="408" y="175" width="110.5" height="108" fill="#9a91c4" stroke="none" stroke-width="0"/>
<rect x="408" y="175" width="110.5" height="108" filter="url(#spk)" opacity="0.4"/>
<rect x="408" y="175" width="110.5" height="108" filter="url(#spkd)" opacity="0.3"/>
<defs><linearGradient id="ig" x1="0" y1="0" x2="0" y2="1"><stop offset="0" stop-color="#a99dc8"/><stop offset="0.45" stop-color="#bdb2d4"/><stop offset="1" stop-color="#d6cfe0"/></linearGradient><filter id="bl2" x="-5%" y="-5%" width="110%" height="110%"><feGaussianBlur stdDeviation="0.9"/></filter></defs>
<polygon points="408.0,183.0 452.0,183.0 451.0,200.0 447.0,220.0 440.0,238.0 432.0,252.0 428.0,265.0 426.0,276.0 408.0,276.0" fill="url(#ig)" />
<polygon points="452.0,183.0 451.0,200.0 447.0,220.0 440.0,238.0 432.0,252.0 428.0,265.0 426.0,276.0 437.0,276.0 436.0,262.0 438.0,251.0 445.0,243.0 454.0,234.0 461.0,220.0 465.0,200.0 466.0,175.0 462.0,175.0" fill="#d4bcd8" />
<polygon points="408.0,175.0 463.0,175.0 462.0,184.0 408.0,184.0" fill="#b3a0cb" />
<g filter="url(#bl2)">
<ellipse cx="430.4" cy="225.6" rx="1.4" ry="1.5" fill="#a898c6"/>
<ellipse cx="417.2" cy="238.0" rx="1.5" ry="1.7" fill="#c9a9cc"/>
<ellipse cx="429.3" cy="201.1" rx="0.9" ry="2.0" fill="#a797c8"/>
<ellipse cx="412.9" cy="247.8" rx="2.2" ry="1.7" fill="#b7aacf"/>
<ellipse cx="416.2" cy="240.6" rx="2.0" ry="0.8" fill="#ece8ef"/>
<ellipse cx="447.0" cy="187.3" rx="1.9" ry="1.2" fill="#ebe6ee"/>
<ellipse cx="417.4" cy="238.4" rx="1.7" ry="1.5" fill="#e2dce7"/>
<ellipse cx="423.0" cy="244.9" rx="1.4" ry="1.6" fill="#d9d2e1"/>
<ellipse cx="413.3" cy="269.7" rx="1.2" ry="1.1" fill="#d9d2e1"/>
<ellipse cx="414.6" cy="210.6" rx="1.4" ry="2.0" fill="#ddd6e4"/>
<ellipse cx="445.6" cy="219.6" rx="1.1" ry="2.1" fill="#ebe6ee"/>
<ellipse cx="426.9" cy="188.8" rx="1.4" ry="1.6" fill="#8f80ba"/>
<ellipse cx="438.0" cy="202.3" rx="0.9" ry="1.2" fill="#d0b3d4"/>
<ellipse cx="423.1" cy="272.7" rx="1.0" ry="1.8" fill="#ece8ef"/>
<ellipse cx="430.5" cy="185.0" rx="1.0" ry="1.6" fill="#c9bedc"/>
<ellipse cx="418.3" cy="225.2" rx="1.9" ry="1.4" fill="#d0c8dc"/>
<ellipse cx="425.9" cy="219.3" rx="0.8" ry="2.0" fill="#9d8dc2"/>
<ellipse cx="420.5" cy="273.7" rx="1.1" ry="1.3" fill="#ece8ef"/>
<ellipse cx="422.7" cy="262.6" rx="0.8" ry="1.0" fill="#ece8ef"/>
<ellipse cx="412.3" cy="224.6" rx="2.0" ry="1.3" fill="#d0b3d4"/>
<ellipse cx="420.3" cy="190.8" rx="0.8" ry="1.3" fill="#9d8dc2"/>
<ellipse cx="415.3" cy="241.2" rx="1.5" ry="1.6" fill="#c9a9cc"/>
<ellipse cx="415.0" cy="263.7" rx="1.2" ry="1.1" fill="#e2dce7"/>
<ellipse cx="431.4" cy="240.2" rx="1.9" ry="2.2" fill="#e2dce7"/>
<ellipse cx="448.7" cy="202.1" rx="1.7" ry="1.4" fill="#c9bedc"/>
<ellipse cx="413.5" cy="193.6" rx="1.1" ry="1.8" fill="#b3a3cf"/>
<ellipse cx="442.9" cy="207.6" rx="1.2" ry="1.0" fill="#c9bedc"/>
<ellipse cx="413.4" cy="250.3" rx="1.5" ry="1.7" fill="#e2dce7"/>
<ellipse cx="414.0" cy="240.7" rx="2.1" ry="1.1" fill="#e2dce7"/>
<ellipse cx="422.7" cy="185.5" rx="1.1" ry="0.8" fill="#c9bedc"/>
<ellipse cx="431.7" cy="209.9" rx="0.9" ry="1.0" fill="#a797c8"/>
<ellipse cx="422.9" cy="225.4" rx="1.8" ry="1.6" fill="#d0c8dc"/>
<ellipse cx="413.4" cy="196.9" rx="1.5" ry="1.3" fill="#ebe6ee"/>
<ellipse cx="413.2" cy="212.7" rx="1.5" ry="1.8" fill="#ddd6e4"/>
<ellipse cx="448.3" cy="213.3" rx="1.4" ry="1.3" fill="#ddd6e4"/>
<ellipse cx="449.2" cy="188.1" rx="1.9" ry="2.1" fill="#a797c8"/>
<ellipse cx="436.5" cy="216.4" rx="2.1" ry="1.4" fill="#ddd6e4"/>
<ellipse cx="428.0" cy="256.7" rx="0.8" ry="1.7" fill="#c9a9cc"/>
<ellipse cx="412.4" cy="218.9" rx="0.9" ry="1.7" fill="#ddd6e4"/>
<ellipse cx="424.4" cy="275.4" rx="1.2" ry="2.2" fill="#d0c8dc"/>
<ellipse cx="422.2" cy="247.9" rx="2.0" ry="0.9" fill="#b7aacf"/>
<ellipse cx="412.6" cy="253.0" rx="0.9" ry="0.8" fill="#c9a9cc"/>
<ellipse cx="413.7" cy="272.1" rx="1.7" ry="2.1" fill="#a898c6"/>
<ellipse cx="412.4" cy="207.5" rx="1.0" ry="1.7" fill="#b3a3cf"/>
<ellipse cx="435.0" cy="231.7" rx="1.7" ry="1.4" fill="#d9d2e1"/>
<ellipse cx="417.2" cy="266.0" rx="1.1" ry="1.7" fill="#d0c8dc"/>
<ellipse cx="425.7" cy="257.9" rx="2.1" ry="1.3" fill="#e2dce7"/>
<ellipse cx="420.9" cy="237.6" rx="1.0" ry="1.3" fill="#e2dce7"/>
<ellipse cx="412.6" cy="266.4" rx="2.2" ry="1.2" fill="#ece8ef"/>
<ellipse cx="429.6" cy="199.6" rx="2.1" ry="2.0" fill="#b3a3cf"/>
<ellipse cx="430.3" cy="219.2" rx="1.8" ry="2.0" fill="#d0b3d4"/>
<ellipse cx="420.3" cy="241.5" rx="0.8" ry="2.1" fill="#a898c6"/>
<ellipse cx="440.1" cy="187.8" rx="1.2" ry="1.9" fill="#d0b3d4"/>
<ellipse cx="417.4" cy="185.8" rx="1.0" ry="1.9" fill="#c9bedc"/>
<ellipse cx="441.1" cy="208.5" rx="2.2" ry="0.9" fill="#ebe6ee"/>
<ellipse cx="433.1" cy="194.0" rx="2.2" ry="1.8" fill="#d0b3d4"/>
<ellipse cx="430.3" cy="202.3" rx="1.8" ry="1.9" fill="#a797c8"/>
<ellipse cx="413.1" cy="233.2" rx="1.2" ry="1.3" fill="#e2dce7"/>
<ellipse cx="423.6" cy="248.2" rx="2.2" ry="1.0" fill="#c9a9cc"/>
<ellipse cx="423.8" cy="262.1" rx="0.9" ry="2.1" fill="#e2dce7"/>
<ellipse cx="414.7" cy="250.5" rx="1.0" ry="2.1" fill="#b7aacf"/>
<ellipse cx="433.9" cy="184.6" rx="1.4" ry="1.7" fill="#d0b3d4"/>
<ellipse cx="439.7" cy="202.9" rx="1.1" ry="2.1" fill="#ddd6e4"/>
<ellipse cx="426.0" cy="274.2" rx="2.2" ry="2.1" fill="#c9a9cc"/>
<ellipse cx="438.8" cy="208.1" rx="1.3" ry="0.9" fill="#ebe6ee"/>
<ellipse cx="430.3" cy="224.6" rx="1.5" ry="0.8" fill="#b3a3cf"/>
<ellipse cx="413.2" cy="258.4" rx="0.8" ry="1.5" fill="#a898c6"/>
<ellipse cx="432.9" cy="247.2" rx="1.0" ry="1.5" fill="#b7aacf"/>
<ellipse cx="429.5" cy="250.6" rx="1.4" ry="2.1" fill="#d0c8dc"/>
<ellipse cx="431.5" cy="237.3" rx="1.1" ry="1.5" fill="#a898c6"/>
<ellipse cx="438.9" cy="210.7" rx="1.5" ry="2.0" fill="#a797c8"/>
<ellipse cx="421.0" cy="235.5" rx="2.2" ry="2.1" fill="#b7aacf"/>
<ellipse cx="420.2" cy="240.1" rx="2.2" ry="1.5" fill="#e2dce7"/>
<ellipse cx="417.7" cy="236.7" rx="0.9" ry="0.8" fill="#c9a9cc"/>
<ellipse cx="431.0" cy="218.7" rx="1.5" ry="1.4" fill="#ebe6ee"/>
<ellipse cx="422.3" cy="257.7" rx="0.9" ry="1.0" fill="#b7aacf"/>
<ellipse cx="419.0" cy="269.6" rx="2.1" ry="1.2" fill="#a898c6"/>
<ellipse cx="416.1" cy="227.5" rx="2.1" ry="2.2" fill="#b7aacf"/>
<ellipse cx="420.1" cy="268.6" rx="1.0" ry="1.7" fill="#ece8ef"/>
<ellipse cx="414.0" cy="269.1" rx="2.2" ry="0.8" fill="#a898c6"/>
<ellipse cx="412.5" cy="198.3" rx="1.2" ry="1.3" fill="#b3a3cf"/>
<ellipse cx="414.8" cy="241.0" rx="1.6" ry="2.0" fill="#d0c8dc"/>
<ellipse cx="430.7" cy="241.4" rx="1.5" ry="1.4" fill="#d0c8dc"/>
<ellipse cx="426.6" cy="218.6" rx="1.6" ry="2.0" fill="#a797c8"/>
<ellipse cx="418.5" cy="233.1" rx="2.0" ry="1.7" fill="#e2dce7"/>
<ellipse cx="415.9" cy="262.8" rx="1.7" ry="1.3" fill="#d0c8dc"/>
<ellipse cx="435.4" cy="200.7" rx="1.1" ry="2.2" fill="#9d8dc2"/>
<ellipse cx="414.1" cy="265.7" rx="0.9" ry="0.9" fill="#e2dce7"/>
<ellipse cx="427.2" cy="219.7" rx="1.6" ry="1.8" fill="#8f80ba"/>
<ellipse cx="436.2" cy="202.5" rx="0.9" ry="1.6" fill="#ebe6ee"/>
<ellipse cx="441.2" cy="216.9" rx="0.9" ry="1.5" fill="#d0b3d4"/>
<ellipse cx="421.8" cy="253.8" rx="2.0" ry="2.0" fill="#d0c8dc"/>
<ellipse cx="412.8" cy="228.4" rx="1.6" ry="1.5" fill="#a898c6"/>
<ellipse cx="416.2" cy="236.3" rx="0.9" ry="1.0" fill="#e2dce7"/>
<ellipse cx="423.1" cy="198.5" rx="1.6" ry="1.0" fill="#ddd6e4"/>
<ellipse cx="413.8" cy="246.6" rx="1.2" ry="1.5" fill="#ece8ef"/>
<ellipse cx="425.1" cy="231.4" rx="1.3" ry="1.7" fill="#c9a9cc"/>
<ellipse cx="420.0" cy="187.8" rx="1.4" ry="1.9" fill="#8f80ba"/>
<ellipse cx="418.7" cy="221.3" rx="0.9" ry="1.9" fill="#a797c8"/>
<ellipse cx="415.1" cy="213.8" rx="1.6" ry="1.0" fill="#8f80ba"/>
<ellipse cx="421.6" cy="237.8" rx="1.1" ry="2.1" fill="#a898c6"/>
<ellipse cx="427.4" cy="252.5" rx="2.2" ry="0.9" fill="#a898c6"/>
<ellipse cx="431.5" cy="214.4" rx="1.9" ry="1.9" fill="#d0b3d4"/>
<ellipse cx="436.9" cy="221.3" rx="1.9" ry="1.2" fill="#ddd6e4"/>
<ellipse cx="447.0" cy="193.3" rx="1.1" ry="2.2" fill="#ebe6ee"/>
<ellipse cx="420.1" cy="245.3" rx="1.4" ry="1.0" fill="#d0c8dc"/>
<ellipse cx="432.3" cy="191.1" rx="1.7" ry="1.8" fill="#c9bedc"/>
<ellipse cx="431.0" cy="254.1" rx="0.9" ry="0.9" fill="#ece8ef"/>
<ellipse cx="428.8" cy="205.8" rx="1.9" ry="1.7" fill="#ebe6ee"/>
<ellipse cx="422.3" cy="185.0" rx="2.1" ry="1.6" fill="#b3a3cf"/>
<ellipse cx="441.8" cy="230.7" rx="2.0" ry="0.9" fill="#c9a9cc"/>
<ellipse cx="433.3" cy="224.9" rx="1.3" ry="2.2" fill="#ebe6ee"/>
<ellipse cx="446.0" cy="219.5" rx="1.6" ry="1.6" fill="#c9bedc"/>
<ellipse cx="428.6" cy="223.5" rx="1.5" ry="1.6" fill="#b3a3cf"/>
<ellipse cx="422.1" cy="217.6" rx="1.6" ry="1.2" fill="#b3a3cf"/>
<ellipse cx="418.3" cy="249.9" rx="1.9" ry="1.6" fill="#ece8ef"/>
<ellipse cx="422.5" cy="242.2" rx="1.3" ry="2.1" fill="#d0c8dc"/>
<ellipse cx="413.0" cy="252.8" rx="2.2" ry="0.9" fill="#d0c8dc"/>
<ellipse cx="418.7" cy="267.3" rx="1.1" ry="1.9" fill="#b7aacf"/>
<ellipse cx="415.9" cy="188.2" rx="1.0" ry="2.2" fill="#c9bedc"/>
<ellipse cx="438.6" cy="206.6" rx="1.7" ry="1.4" fill="#ebe6ee"/>
<ellipse cx="414.0" cy="202.7" rx="0.9" ry="1.4" fill="#a797c8"/>
<ellipse cx="422.8" cy="245.4" rx="1.7" ry="1.8" fill="#d9d2e1"/>
<ellipse cx="438.4" cy="217.5" rx="2.2" ry="1.9" fill="#a797c8"/>
<ellipse cx="416.3" cy="205.9" rx="1.9" ry="1.7" fill="#b3a3cf"/>
<ellipse cx="421.7" cy="217.0" rx="1.7" ry="1.9" fill="#9d8dc2"/>
<ellipse cx="421.6" cy="201.5" rx="2.1" ry="0.8" fill="#9d8dc2"/>
<ellipse cx="422.7" cy="189.6" rx="0.8" ry="0.8" fill="#8f80ba"/>
<ellipse cx="422.6" cy="204.5" rx="2.1" ry="1.0" fill="#ddd6e4"/>
<ellipse cx="449.2" cy="205.6" rx="1.5" ry="1.1" fill="#c9bedc"/>
<ellipse cx="438.7" cy="215.6" rx="2.0" ry="1.4" fill="#ddd6e4"/>
<ellipse cx="426.8" cy="259.6" rx="1.1" ry="1.4" fill="#a898c6"/>
<ellipse cx="442.3" cy="207.7" rx="1.0" ry="2.0" fill="#d0b3d4"/>
<ellipse cx="420.0" cy="238.9" rx="1.9" ry="2.1" fill="#a898c6"/>
<ellipse cx="424.4" cy="223.3" rx="1.4" ry="1.2" fill="#ddd6e4"/>
<ellipse cx="424.8" cy="234.0" rx="1.5" ry="1.8" fill="#c9a9cc"/>
<ellipse cx="440.5" cy="211.5" rx="1.2" ry="2.1" fill="#ddd6e4"/>
<ellipse cx="430.9" cy="239.5" rx="1.8" ry="1.8" fill="#b7aacf"/>
<ellipse cx="417.3" cy="210.0" rx="1.7" ry="1.2" fill="#d0b3d4"/>
<ellipse cx="417.0" cy="267.4" rx="1.6" ry="2.1" fill="#b7aacf"/>
<ellipse cx="425.7" cy="270.5" rx="1.5" ry="2.2" fill="#b7aacf"/>
<ellipse cx="419.2" cy="226.2" rx="2.1" ry="1.1" fill="#d0c8dc"/>
<ellipse cx="425.0" cy="217.3" rx="1.8" ry="1.6" fill="#d0b3d4"/>
<ellipse cx="425.6" cy="257.2" rx="1.9" ry="1.6" fill="#d9d2e1"/>
<ellipse cx="421.7" cy="260.9" rx="0.9" ry="1.4" fill="#e2dce7"/>
<ellipse cx="425.6" cy="262.6" rx="1.5" ry="1.6" fill="#e2dce7"/>
<ellipse cx="439.7" cy="236.2" rx="2.0" ry="1.4" fill="#d0c8dc"/>
<ellipse cx="420.6" cy="237.5" rx="0.9" ry="0.9" fill="#c9a9cc"/>
<ellipse cx="430.1" cy="251.8" rx="0.8" ry="1.7" fill="#ece8ef"/>
<ellipse cx="444.2" cy="193.0" rx="1.1" ry="1.1" fill="#8f80ba"/>
<ellipse cx="422.0" cy="254.4" rx="1.4" ry="1.3" fill="#a898c6"/>
<ellipse cx="418.0" cy="258.3" rx="1.5" ry="1.6" fill="#e2dce7"/>
<ellipse cx="426.8" cy="250.3" rx="1.4" ry="2.0" fill="#ece8ef"/>
<ellipse cx="432.3" cy="245.3" rx="1.3" ry="0.9" fill="#a898c6"/>
<ellipse cx="429.5" cy="226.7" rx="1.5" ry="1.8" fill="#ece8ef"/>
<ellipse cx="419.7" cy="257.8" rx="2.1" ry="1.1" fill="#b7aacf"/>
<ellipse cx="436.8" cy="198.9" rx="1.2" ry="1.3" fill="#a797c8"/>
<ellipse cx="420.2" cy="232.7" rx="1.5" ry="1.8" fill="#ece8ef"/>
<ellipse cx="417.7" cy="211.9" rx="2.1" ry="1.9" fill="#a797c8"/>
<ellipse cx="431.2" cy="185.6" rx="1.2" ry="1.0" fill="#ebe6ee"/>
<ellipse cx="432.9" cy="217.1" rx="1.6" ry="1.1" fill="#c9bedc"/>
<ellipse cx="422.9" cy="201.0" rx="2.1" ry="2.2" fill="#a797c8"/>
<ellipse cx="436.4" cy="241.7" rx="1.5" ry="1.1" fill="#c9a9cc"/>
<ellipse cx="426.5" cy="265.6" rx="1.7" ry="1.9" fill="#d9d2e1"/>
<ellipse cx="446.0" cy="192.5" rx="0.8" ry="2.2" fill="#8f80ba"/>
<ellipse cx="419.0" cy="257.7" rx="1.9" ry="1.9" fill="#c9a9cc"/>
<ellipse cx="413.1" cy="256.5" rx="2.1" ry="2.1" fill="#e2dce7"/>
<ellipse cx="419.0" cy="267.3" rx="1.8" ry="1.7" fill="#e2dce7"/>
<ellipse cx="418.1" cy="198.5" rx="1.0" ry="2.1" fill="#d0b3d4"/>
<ellipse cx="414.4" cy="258.5" rx="2.2" ry="1.1" fill="#d0c8dc"/>
</g>
<polygon points="408.0,183.0 416.0,183.0 415.5,200.0 414.5,215.0 412.0,235.0 410.0,255.0 408.5,270.0 408.0,270.0" fill="#f3f0f2" />
<polygon points="484.0,175.0 499.0,175.0 497.0,181.0 493.0,183.0 487.0,181.5" fill="#eeeef0" />
<polyline points="495.1,178.9 491.4,192.4 486.5,205.9 480.4,216.9 471.8,229.2 465.7,236.1 462.0,239.8 458.7,245.9 452.6,254.5 442.8,250.8" fill="none" stroke="#eeebf3" stroke-width="1.6" stroke-linejoin="round" stroke-linecap="round"/>
<polyline points="504.5,179.0 508.0,188.0 507.0,197.0 504.0,206.0 500.0,214.5 491.4,225.5 487.8,232.0 480.4,239.8 474.3,250.8 468.1,258.2 464.5,265.6 462.0,269.2" fill="none" stroke="#eeebf3" stroke-width="1.6" stroke-linejoin="round" stroke-linecap="round"/>
<polyline points="505.5,180.0 508.5,188.0 507.5,196.0" fill="none" stroke="#eeebf3" stroke-width="3.2" stroke-linejoin="round" stroke-linecap="round"/>
<polyline points="452.6,254.5 458.0,258.5 463.0,263.0 467.0,268.5" fill="none" stroke="#eeebf3" stroke-width="1.6" stroke-linejoin="round" stroke-linecap="round"/>
<polyline points="519.0,248.4 508.0,255.5 498.1,262.4 490.0,267.0 481.9,271.7 475.0,278.0 470.2,284.0" fill="none" stroke="#eeebf3" stroke-width="2.4" stroke-linejoin="round" stroke-linecap="round"/>
<polyline points="505.0,181.0 511.0,186.3 513.5,193.6 517.0,198.0" fill="none" stroke="#eeebf3" stroke-width="1.4" stroke-linejoin="round" stroke-linecap="round"/>
<polyline points="478.0,175.0 482.0,181.4 488.0,182.6" fill="none" stroke="#eeebf3" stroke-width="1.2" stroke-linejoin="round" stroke-linecap="round"/>
<polygon points="455.0,278.0 472.0,278.0 469.0,283.5 455.0,283.5" fill="#efedf0" />
</g>
<rect x="408" y="276.3" width="54" height="7" fill="#ebe8ee" stroke="none" stroke-width="0"/>
<line x1="408.6" y1="277.4" x2="454.7" y2="277.4" stroke="#3a3450" stroke-width="0.9" />
<text x="410" y="281.6" font-size="3" font-weight="bold" text-anchor="middle" fill="#4a4460" >0</text>
<text x="415" y="281.6" font-size="3" font-weight="bold" text-anchor="middle" fill="#4a4460" >0.25</text>
<text x="424" y="281.6" font-size="3" font-weight="bold" text-anchor="middle" fill="#4a4460" >0.5</text>
<text x="433" y="281.6" font-size="3" font-weight="bold" text-anchor="middle" fill="#4a4460" >0.75</text>
<text x="444" y="281.6" font-size="3" font-weight="bold" text-anchor="middle" fill="#4a4460" >1 mm</text>
<line x1="409" y1="276.8" x2="409" y2="278.4" stroke="#3a3450" stroke-width="0.6" />
<line x1="420" y1="276.8" x2="420" y2="278.4" stroke="#3a3450" stroke-width="0.6" />
<line x1="431" y1="276.8" x2="431" y2="278.4" stroke="#3a3450" stroke-width="0.6" />
<line x1="442" y1="276.8" x2="442" y2="278.4" stroke="#3a3450" stroke-width="0.6" />
<line x1="453.5" y1="276.8" x2="453.5" y2="278.4" stroke="#3a3450" stroke-width="0.6" />
</g>
<text x="30.4" y="331.7" font-size="13" font-weight="bold" text-anchor="start" fill="#111"  stroke="#111" stroke-width="0.3">E</text>
<rect x="67.5" y="422.087" width="11.8" height="22.113" fill="#fff" stroke="#111" stroke-width="1.3"/>
<rect x="85.2" y="389.3144" width="11.4" height="54.88560000000001" fill="#b7b7b7" stroke="none" stroke-width="0"/>
<rect x="102.3" y="352.346" width="11.5" height="91.85399999999998" fill="#000" stroke="none" stroke-width="0"/>
<line x1="73.4" y1="422.087" x2="73.4" y2="419.252" stroke="#111" stroke-width="1.5" />
<line x1="71.80000000000001" y1="419.752" x2="75.0" y2="419.752" stroke="#111" stroke-width="1.6" />
<line x1="90.8" y1="389.3144" x2="90.8" y2="378.2012" stroke="#111" stroke-width="1.5" />
<line x1="89.2" y1="378.7012" x2="92.39999999999999" y2="378.7012" stroke="#111" stroke-width="1.6" />
<line x1="108.1" y1="352.346" x2="108.1" y2="340.8926" stroke="#111" stroke-width="1.5" />
<line x1="106.5" y1="341.3926" x2="109.69999999999999" y2="341.3926" stroke="#111" stroke-width="1.6" />
<line x1="64.9" y1="330.5" x2="64.9" y2="445.8" stroke="#111" stroke-width="1.8" />
<line x1="64.2" y1="444.4" x2="117.3" y2="444.4" stroke="#111" stroke-width="1.5" />
<line x1="63.2" y1="444.2" x2="64.9" y2="444.2" stroke="#111" stroke-width="1.1" />
<line x1="63.6" y1="432.86" x2="64.9" y2="432.86" stroke="#111" stroke-width="1.1" />
<line x1="63.2" y1="421.52" x2="64.9" y2="421.52" stroke="#111" stroke-width="1.1" />
<line x1="63.6" y1="410.18" x2="64.9" y2="410.18" stroke="#111" stroke-width="1.1" />
<line x1="63.2" y1="398.84" x2="64.9" y2="398.84" stroke="#111" stroke-width="1.1" />
<line x1="63.6" y1="387.5" x2="64.9" y2="387.5" stroke="#111" stroke-width="1.1" />
<line x1="63.2" y1="376.15999999999997" x2="64.9" y2="376.15999999999997" stroke="#111" stroke-width="1.1" />
<line x1="63.6" y1="364.82" x2="64.9" y2="364.82" stroke="#111" stroke-width="1.1" />
<line x1="63.2" y1="353.48" x2="64.9" y2="353.48" stroke="#111" stroke-width="1.1" />
<line x1="63.6" y1="342.14" x2="64.9" y2="342.14" stroke="#111" stroke-width="1.1" />
<line x1="63.2" y1="330.79999999999995" x2="64.9" y2="330.79999999999995" stroke="#111" stroke-width="1.1" />
<text x="62.3" y="447.3" font-size="8.6" font-weight="normal" text-anchor="end" fill="#222"  stroke="#222" stroke-width="0.1">0</text>
<text x="62.3" y="424.62" font-size="8.6" font-weight="normal" text-anchor="end" fill="#222"  stroke="#222" stroke-width="0.1">2</text>
<text x="62.3" y="401.94" font-size="8.6" font-weight="normal" text-anchor="end" fill="#222"  stroke="#222" stroke-width="0.1">4</text>
<text x="62.3" y="379.26" font-size="8.6" font-weight="normal" text-anchor="end" fill="#222"  stroke="#222" stroke-width="0.1">6</text>
<text x="62.3" y="356.58000000000004" font-size="8.6" font-weight="normal" text-anchor="end" fill="#222"  stroke="#222" stroke-width="0.1">8</text>
<text x="62.3" y="333.9" font-size="8.6" font-weight="normal" text-anchor="end" fill="#222"  stroke="#222" stroke-width="0.1">10</text>
<text x="51.6" y="383.4" font-size="8.6" font-weight="bold" text-anchor="middle" fill="#111" transform="rotate(-90 51.6 383.4)"  stroke="#111" stroke-width="0.3">Pathological score</text>
<line x1="91.3" y1="336.4" x2="107.7" y2="336.4" stroke="#111" stroke-width="1.2" />
<line x1="91.3" y1="336" x2="91.3" y2="338.6" stroke="#111" stroke-width="1.2" />
<line x1="107.7" y1="336" x2="107.7" y2="338.6" stroke="#111" stroke-width="1.2" />
<text x="98.9" y="337.4" font-size="10" font-weight="bold" text-anchor="middle" fill="#111"  stroke="#111" stroke-width="0.3">*</text>
<text x="73.4" y="454.2" font-size="8.6" font-weight="bold" text-anchor="middle" fill="#111"  stroke="#111" stroke-width="0.3">Syn</text>
<text x="91" y="454.2" font-size="8.6" font-weight="bold" text-anchor="middle" fill="#111"  stroke="#111" stroke-width="0.3">WT</text>
<text x="108.5" y="454.2" font-size="8.6" font-weight="bold" text-anchor="middle" fill="#111"  stroke="#111" stroke-width="0.3">KO</text>
<text x="127.4" y="332.5" font-size="12.8" font-weight="bold" text-anchor="start" fill="#111"  stroke="#111" stroke-width="0.3">F</text>
<rect x="178" y="403.7408" width="15.099999999999994" height="40.75920000000002" fill="#b7b7b7" stroke="none" stroke-width="0"/>
<line x1="185.55" y1="403.7408" x2="185.55" y2="391.8527" stroke="#111" stroke-width="1.5" />
<line x1="183.95000000000002" y1="392.3527" x2="187.15" y2="392.3527" stroke="#111" stroke-width="1.6" />
<rect x="193.2" y="359.35856" width="15.700000000000017" height="85.14143999999999" fill="#000" stroke="none" stroke-width="0"/>
<line x1="201.05" y1="359.35856" x2="201.05" y2="337.5071" stroke="#111" stroke-width="1.5" />
<line x1="199.45000000000002" y1="338.0071" x2="202.65" y2="338.0071" stroke="#111" stroke-width="1.6" />
<rect x="223.8" y="432.38546" width="15.199999999999989" height="12.114539999999977" fill="#b7b7b7" stroke="none" stroke-width="0"/>
<line x1="231.4" y1="432.38546" x2="231.4" y2="430.3475" stroke="#111" stroke-width="1.5" />
<line x1="229.8" y1="430.8475" x2="233.0" y2="430.8475" stroke="#111" stroke-width="1.6" />
<rect x="239" y="414.27026" width="14.699999999999989" height="30.229739999999993" fill="#000" stroke="none" stroke-width="0"/>
<line x1="246.35" y1="414.27026" x2="246.35" y2="403.40114" stroke="#111" stroke-width="1.5" />
<line x1="244.75" y1="403.90114" x2="247.95" y2="403.90114" stroke="#111" stroke-width="1.6" />
<rect x="269.4" y="427.517" width="15.300000000000011" height="16.983000000000004" fill="#b7b7b7" stroke="none" stroke-width="0"/>
<line x1="277.04999999999995" y1="427.517" x2="277.04999999999995" y2="423.21464" stroke="#111" stroke-width="1.5" />
<line x1="275.44999999999993" y1="423.71464" x2="278.65" y2="423.71464" stroke="#111" stroke-width="1.6" />
<rect x="285.2" y="378.8324" width="14.699999999999989" height="65.6676" fill="#000" stroke="none" stroke-width="0"/>
<line x1="292.54999999999995" y1="378.8324" x2="292.54999999999995" y2="354.15044" stroke="#111" stroke-width="1.5" />
<line x1="290.94999999999993" y1="354.65044" x2="294.15" y2="354.65044" stroke="#111" stroke-width="1.6" />
<line x1="166.9" y1="330.2" x2="166.9" y2="446.3" stroke="#111" stroke-width="1.7" />
<line x1="166.2" y1="444.4" x2="311.5" y2="444.4" stroke="#111" stroke-width="1.5" />
<line x1="165.2" y1="444.5" x2="166.9" y2="444.5" stroke="#111" stroke-width="1.1" />
<line x1="165.7" y1="433.178" x2="166.9" y2="433.178" stroke="#111" stroke-width="1.1" />
<line x1="165.2" y1="421.856" x2="166.9" y2="421.856" stroke="#111" stroke-width="1.1" />
<line x1="165.7" y1="410.534" x2="166.9" y2="410.534" stroke="#111" stroke-width="1.1" />
<line x1="165.2" y1="399.212" x2="166.9" y2="399.212" stroke="#111" stroke-width="1.1" />
<line x1="165.7" y1="387.89" x2="166.9" y2="387.89" stroke="#111" stroke-width="1.1" />
<line x1="165.2" y1="376.568" x2="166.9" y2="376.568" stroke="#111" stroke-width="1.1" />
<line x1="165.7" y1="365.246" x2="166.9" y2="365.246" stroke="#111" stroke-width="1.1" />
<line x1="165.2" y1="353.924" x2="166.9" y2="353.924" stroke="#111" stroke-width="1.1" />
<line x1="165.7" y1="342.602" x2="166.9" y2="342.602" stroke="#111" stroke-width="1.1" />
<line x1="165.2" y1="331.28" x2="166.9" y2="331.28" stroke="#111" stroke-width="1.1" />
<text x="164.1" y="448.0" font-size="9.1" font-weight="normal" text-anchor="end" fill="#222"  stroke="#222" stroke-width="0.1">0</text>
<text x="164.1" y="425.356" font-size="9.1" font-weight="normal" text-anchor="end" fill="#222"  stroke="#222" stroke-width="0.1">20</text>
<text x="164.1" y="402.712" font-size="9.1" font-weight="normal" text-anchor="end" fill="#222"  stroke="#222" stroke-width="0.1">40</text>
<text x="164.1" y="380.068" font-size="9.1" font-weight="normal" text-anchor="end" fill="#222"  stroke="#222" stroke-width="0.1">60</text>
<text x="164.1" y="357.424" font-size="9.1" font-weight="normal" text-anchor="end" fill="#222"  stroke="#222" stroke-width="0.1">80</text>
<text x="164.1" y="334.78" font-size="9.1" font-weight="normal" text-anchor="end" fill="#222"  stroke="#222" stroke-width="0.1">100</text>
<text x="145.9" y="387.2" font-size="8.9" font-weight="bold" text-anchor="middle" fill="#111" transform="rotate(-90 145.9 387.2)"  stroke="#111" stroke-width="0.15">% of expression (/Positive Ctrl)</text>
<text x="192.3" y="454.9" font-size="8.6" font-weight="bold" text-anchor="middle" fill="#111"  stroke="#111" stroke-width="0.3">TNFR1</text>
<text x="239.3" y="454.9" font-size="8.6" font-weight="bold" text-anchor="middle" fill="#111"  stroke="#111" stroke-width="0.3">TNFR2</text>
<text x="284.4" y="454.9" font-size="8.6" font-weight="bold" text-anchor="middle" fill="#111"  stroke="#111" stroke-width="0.3">L-Selectin</text>
<rect x="301.3" y="464.3" width="4.4" height="4.8" fill="#b7b7b7" stroke="none" stroke-width="0"/>
<text x="306.4" y="469.6" font-size="9.2" font-weight="bold" text-anchor="start" fill="#111"  stroke="#111" stroke-width="0.3">WT</text>
<rect x="324.6" y="464.3" width="4.3" height="4.8" fill="#000" stroke="none" stroke-width="0"/>
<text x="330.6" y="469.6" font-size="9.2" font-weight="bold" text-anchor="start" fill="#111"  stroke="#111" stroke-width="0.3">KO</text>
<rect x="358" y="387.922" width="14.300000000000011" height="57.077999999999975" fill="#b7b7b7" stroke="none" stroke-width="0"/>
<line x1="365.15" y1="387.922" x2="365.15" y2="382.63" stroke="#111" stroke-width="1.5" />
<line x1="363.54999999999995" y1="383.13" x2="366.75" y2="383.13" stroke="#111" stroke-width="1.6" />
<rect x="373.2" y="376.015" width="14.0" height="68.98500000000001" fill="#000" stroke="none" stroke-width="0"/>
<line x1="380.2" y1="376.015" x2="380.2" y2="346.72" stroke="#111" stroke-width="1.5" />
<line x1="378.59999999999997" y1="347.22" x2="381.8" y2="347.22" stroke="#111" stroke-width="1.6" />
<rect x="402.1" y="393.025" width="14.299999999999955" height="51.97500000000002" fill="#b7b7b7" stroke="none" stroke-width="0"/>
<line x1="409.25" y1="393.025" x2="409.25" y2="386.41" stroke="#111" stroke-width="1.5" />
<line x1="407.65" y1="386.91" x2="410.85" y2="386.91" stroke="#111" stroke-width="1.6" />
<rect x="416.9" y="396.805" width="14.0" height="48.19499999999999" fill="#000" stroke="none" stroke-width="0"/>
<line x1="423.9" y1="396.805" x2="423.9" y2="385.9375" stroke="#111" stroke-width="1.5" />
<line x1="422.29999999999995" y1="386.4375" x2="425.5" y2="386.4375" stroke="#111" stroke-width="1.6" />
<line x1="347" y1="330.7" x2="347" y2="446" stroke="#111" stroke-width="1.8" />
<line x1="346.2" y1="445" x2="442.5" y2="445" stroke="#111" stroke-width="1.5" />
<line x1="345.4" y1="445.0" x2="347" y2="445.0" stroke="#111" stroke-width="1.1" />
<line x1="345.4" y1="426.1" x2="347" y2="426.1" stroke="#111" stroke-width="1.1" />
<line x1="345.4" y1="407.2" x2="347" y2="407.2" stroke="#111" stroke-width="1.1" />
<line x1="345.4" y1="388.3" x2="347" y2="388.3" stroke="#111" stroke-width="1.1" />
<line x1="345.4" y1="369.4" x2="347" y2="369.4" stroke="#111" stroke-width="1.1" />
<line x1="345.4" y1="350.5" x2="347" y2="350.5" stroke="#111" stroke-width="1.1" />
<line x1="345.4" y1="331.6" x2="347" y2="331.6" stroke="#111" stroke-width="1.1" />
<text x="344.4" y="447.5" font-size="9.2" font-weight="normal" text-anchor="end" fill="#222"  stroke="#222" stroke-width="0.1">0</text>
<text x="344.4" y="428.6" font-size="9.2" font-weight="normal" text-anchor="end" fill="#222"  stroke="#222" stroke-width="0.1">2</text>
<text x="344.4" y="409.7" font-size="9.2" font-weight="normal" text-anchor="end" fill="#222"  stroke="#222" stroke-width="0.1">4</text>
<text x="344.4" y="390.8" font-size="9.2" font-weight="normal" text-anchor="end" fill="#222"  stroke="#222" stroke-width="0.1">6</text>
<text x="344.4" y="371.9" font-size="9.2" font-weight="normal" text-anchor="end" fill="#222"  stroke="#222" stroke-width="0.1">8</text>
<text x="344.4" y="353.0" font-size="9.2" font-weight="normal" text-anchor="end" fill="#222"  stroke="#222" stroke-width="0.1">10</text>
<text x="344.4" y="334.1" font-size="9.2" font-weight="normal" text-anchor="end" fill="#222"  stroke="#222" stroke-width="0.1">12</text>
<text x="333.5" y="389.3" font-size="8.8" font-weight="bold" text-anchor="middle" fill="#111" transform="rotate(-90 333.5 389.3)"  stroke="#111" stroke-width="0.15">% of expression (/Positive Ctrl)</text>
<text x="373.2" y="454.9" font-size="8.6" font-weight="bold" text-anchor="middle" fill="#111"  stroke="#111" stroke-width="0.3">IL-10</text>
<text x="417.6" y="454.9" font-size="8.6" font-weight="bold" text-anchor="middle" fill="#111"  stroke="#111" stroke-width="0.3">TGF-β</text>
</svg>
</body></html>
